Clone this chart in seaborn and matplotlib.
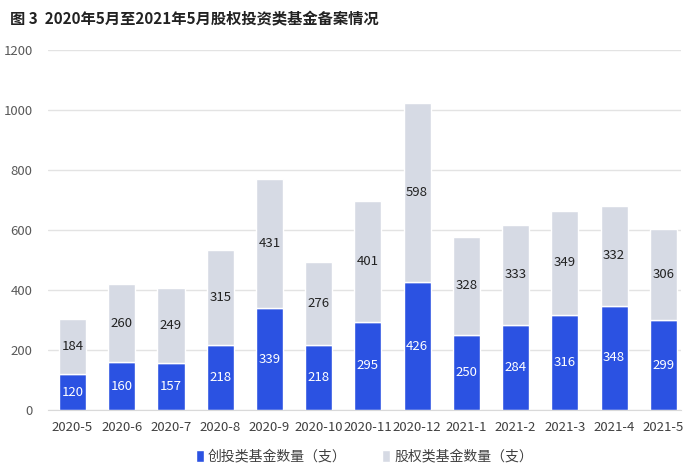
import matplotlib
matplotlib.use("Agg")
import matplotlib.pyplot as plt
import numpy as np
import pandas as pd
import seaborn as sns

months = ["2020-5", "2020-6", "2020-7", "2020-8", "2020-9", "2020-10", "2020-11",
          "2020-12", "2021-1", "2021-2", "2021-3", "2021-4", "2021-5"]
venture = [120, 160, 157, 218, 339, 218, 295, 426, 250, 284, 316, 348, 299]
equity = [184, 260, 249, 315, 431, 276, 401, 598, 328, 333, 349, 332, 306]

sns.set_style("white")
plt.rcParams["font.family"] = ["Noto Sans CJK SC", "DejaVu Sans"]

blue = "#2B52E2"
grey = "#D6DAE4"

df = pd.DataFrame({"month": months, "venture": venture, "equity": equity})

fig = plt.figure(figsize=(6.84, 4.73), dpi=100)
ax = fig.add_axes([0.07, 0.133, 0.925, 0.761])

sns.barplot(data=df, x="month", y="venture", color=blue, width=0.55,
            saturation=1, ax=ax, label="创投类基金数量（支）")
sns.barplot(data=df, x="month", y="equity", color=grey, width=0.55,
            saturation=1, ax=ax, bottom=df["venture"], label="股权类基金数量（支）")

# value labels
for i, (v, e) in enumerate(zip(venture, equity)):
    ax.text(i, v / 2, str(v), ha="center", va="center", color="white", fontsize=9.5)
    ax.text(i, v + e / 2, str(e), ha="center", va="center", color="#222222", fontsize=9.5)

ax.set_ylim(0, 1200)
ax.set_xlim(-0.5, 12.35)
ax.set_yticks(range(0, 1201, 200))
ax.yaxis.grid(True, color="#E3E3E3", linewidth=1)
ax.set_axisbelow(True)
for s in ["top", "right", "left"]:
    ax.spines[s].set_visible(False)
ax.spines["bottom"].set_color("#D9D9D9")
ax.tick_params(axis="y", length=0, labelsize=9.5, labelcolor="#595959", pad=11)
ax.tick_params(axis="x", length=0, labelsize=9.5, labelcolor="#404040", pad=8)
ax.set_xlabel("")
ax.set_ylabel("")

ax.legend(loc="upper center", bbox_to_anchor=(0.5, -0.075), ncol=2, frameon=False,
          fontsize=10, handlelength=0.6, handleheight=0.9, handletextpad=0.3,
          columnspacing=2.5, labelcolor="#404040")

fig.text(0.015, 0.96, "图 3  2020年5月至2021年5月股权投资类基金备案情况",
         fontsize=11, fontweight="bold", color="#222222", va="center")

fig.savefig("out.png", dpi=100)
